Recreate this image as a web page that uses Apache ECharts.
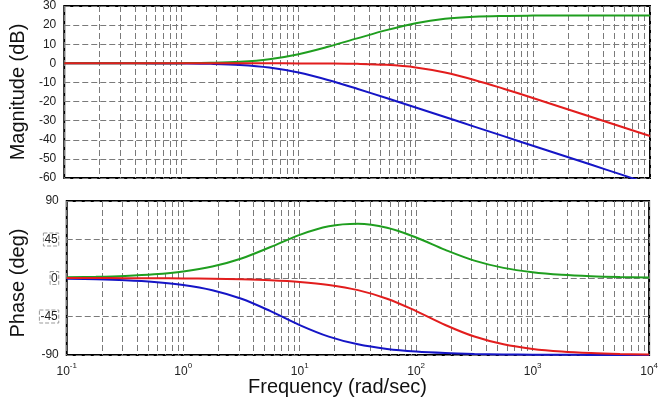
<!DOCTYPE html>
<html><head><meta charset="utf-8">
<script src="https://cdn.jsdelivr.net/npm/echarts@6/dist/echarts.min.js"></script>
<style>html,body{margin:0;padding:0;background:#fff}#c{width:661px;height:413px}</style>
</head><body><div id="c"></div>
<script>
// Frequencies (rad/sec), read at quarter-decade points
const freq = [0.1, 0.1778, 0.3162, 0.5623, 1, 1.778, 3.162, 5.623, 10, 17.78, 31.62, 56.23, 100, 177.8, 316.2, 562.3, 1000, 1778, 3162, 5623, 10000];
// Magnitude (dB)
const magBlue  = [0, 0, -0.01, -0.03, -0.09, -0.27, -0.81, -2.16, -4.83, -8.72, -13.31, -18.16, -23.12, -28.10, -33.10, -38.10, -43.10, -48.10, -53.10, -58.10, -63.10];
const magRed   = [0, 0, 0, 0, 0, 0, 0, -0.01, -0.03, -0.09, -0.27, -0.80, -2.15, -4.81, -8.69, -13.27, -18.13, -23.08, -28.07, -33.06, -38.06];
const magGreen = [0, 0, 0.01, 0.03, 0.09, 0.27, 0.80, 2.15, 4.80, 8.64, 13.04, 17.36, 20.97, 23.30, 24.41, 24.83, 24.97, 25.02, 25.03, 25.04, 25.04];
// Phase (deg)
const phBlue  = [-0.82, -1.45, -2.59, -4.59, -8.13, -14.25, -24.31, -38.77, -55.01, -68.51, -77.52, -82.90, -86.00, -87.75, -88.73, -89.29, -89.60, -89.77, -89.87, -89.93, -89.96];
const phRed   = [-0.05, -0.08, -0.15, -0.26, -0.46, -0.81, -1.45, -2.58, -4.57, -8.10, -14.20, -24.22, -38.66, -54.89, -68.43, -77.47, -82.87, -85.98, -87.74, -88.73, -89.28];
const phGreen = [0.77, 1.37, 2.44, 4.33, 7.67, 13.44, 22.86, 36.19, 50.44, 60.41, 63.32, 58.68, 47.34, 32.86, 20.30, 11.82, 6.73, 3.79, 2.13, 1.20, 0.68];
// Axis ticks
const xTickValues = [0.1, 1, 10, 100, 1000, 10000];
const xTickExps = ['-1', '0', '1', '2', '3', '4'];
const xGridValues = [0.1,0.2,0.3,0.4,0.5,0.6,0.7,0.8,0.9,1,2,3,4,5,6,7,8,9,10,20,30,40,50,60,70,80,90,100,200,300,400,500,600,700,800,900,1000,2000,3000,4000,5000,6000,7000,8000,9000,10000];
const magTicks = [-60, -50, -40, -30, -20, -10, 0, 10, 20, 30];
const phaseTicks = [-90, -45, 0, 45, 90];
const boxedPhaseLabels = [-45, 0, 45];

const GREEN = '#1f9e1f', RED = '#e21d1d', BLUE = '#1515c6';
const pairs = (ys) => freq.map((f, i) => [f, ys[i]]);

const gridLine = {show: true, lineStyle: {color: '#7a7a7a', width: 1, type: [6, 3]}};
function xAxisCfg(idx, showLabels) {
  return {
    type: 'log', logBase: 10, gridIndex: idx, min: 0.1, max: 10000,
    axisLine: {show: false},
    axisTick: {show: false, customValues: xGridValues},
    splitLine: gridLine,
    axisLabel: {
      show: showLabels, customValues: xTickValues, margin: 7,
      formatter: function (v) {
        let best = 0, bd = Infinity;
        xTickValues.forEach((t, i) => { const d = Math.abs(Math.log(t) - Math.log(v)); if (d < bd) { bd = d; best = i; } });
        return '{b|10}{s|' + xTickExps[best] + '}';
      },
      rich: {
        b: {fontSize: 12, fontFamily: 'Liberation Sans, Arial', color: '#222', lineHeight: 16, verticalAlign: 'bottom'},
        s: {fontSize: 8, fontFamily: 'Liberation Sans, Arial', color: '#222', lineHeight: 16, verticalAlign: 'top'}
      }
    }
  };
}
function yAxisCfg(idx, ticks, name, boxed, namePad) {
  return {
    type: 'value', gridIndex: idx, min: ticks[0], max: ticks[ticks.length - 1],
    interval: ticks[1] - ticks[0],
    name: name, nameLocation: 'middle', nameRotate: 90, nameGap: 35,
    nameTextStyle: {fontSize: 20, fontFamily: 'Liberation Sans, Arial', color: '#111', padding: namePad || 0},
    axisLine: {show: false}, axisTick: {show: false},
    splitLine: gridLine,
    axisLabel: {
      margin: 8, fontSize: 12, fontFamily: 'Liberation Sans, Arial', color: '#222',
      formatter: function (v) { return boxed && boxed.indexOf(v) >= 0 ? '{bx|' + v + '}' : String(v); },
      rich: {bx: {fontSize: 12, fontFamily: 'Liberation Sans, Arial', color: '#222', borderColor: '#999', borderWidth: 1, borderType: 'dashed', padding: [1, 1, 0, 1]}}
    }
  };
}
function line(x, y, data, color, z) {
  return {type: 'line', xAxisIndex: x, yAxisIndex: y, data: data, smooth: 0.35, showSymbol: false, symbol: 'none',
          lineStyle: {color: color, width: 2}, itemStyle: {color: color}, z: z, animation: false, clip: true};
}

const chart = echarts.init(document.getElementById('c'), null, {renderer: 'canvas'});
chart.setOption({
  animation: false,
  backgroundColor: '#fff',
  grid: [
    {left: 60, right: 11, top: 4, height: 174, show: true, borderColor: '#000', borderWidth: 2, backgroundColor: 'transparent'},
    {left: 60, right: 11, top: 201, height: 154, show: true, borderColor: '#000', borderWidth: 2, backgroundColor: 'transparent'}
  ],
  xAxis: [xAxisCfg(0, false), xAxisCfg(1, true)],
  yAxis: [yAxisCfg(0, magTicks, 'Magnitude (dB)'), yAxisCfg(1, phaseTicks, 'Phase (deg)', boxedPhaseLabels, [0, 10, 0, 0])],
  series: [
    line(0, 0, pairs(magBlue), BLUE, 3),
    line(0, 0, pairs(magGreen), GREEN, 4),
    line(0, 0, pairs(magRed), RED, 5),
    line(1, 1, pairs(phBlue), BLUE, 3),
    line(1, 1, pairs(phGreen), GREEN, 4),
    line(1, 1, pairs(phRed), RED, 5)
  ],
  graphic: [
    {type: 'text', left: 248, top: 377, style: {text: 'Frequency (rad/sec)', fontSize: 20, fontFamily: 'Liberation Sans, Arial', fill: '#111'}}
  ]
});
</script></body></html>
